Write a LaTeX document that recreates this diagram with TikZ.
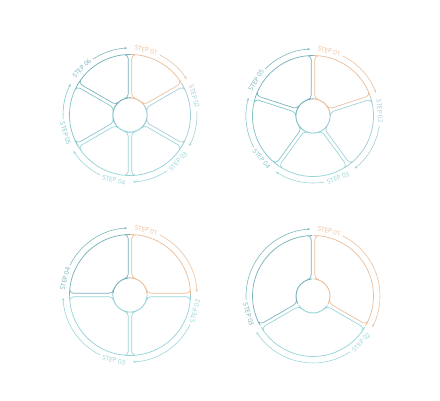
\documentclass[tikz,border=0pt]{standalone}
\usepackage{fontspec}
\setmainfont{Open Sans}
\usetikzlibrary{arrows.meta}
\definecolor{cA}{RGB}{236,190,154}
\definecolor{cB}{RGB}{162,204,214}
\definecolor{cC}{RGB}{148,212,216}
\definecolor{cD}{RGB}{126,196,202}
\definecolor{cE}{RGB}{118,178,186}
\tikzset{
  seg/.style={line width=0.65pt, rounded corners=4pt, line join=round},
  arr/.style={line width=0.55pt, -{Stealth[length=2.6pt,width=2.2pt]}},
  lab/.style={font=\fontsize{6.4}{6.4}\selectfont, inner sep=0pt, anchor=center}
}
\def\Ro{60.5}
\def\Ri{17}
\def\G{1.8}
\def\Ra{67}
\newcommand\drawwheel[4]{%
\begin{scope}[shift={(#1,#2)}]
\pgfmathsetmacro\sp{360/#3}
\foreach \k/\col in {#4}{
  \pgfmathsetmacro\A{90-(\k-1)*\sp}
  \pgfmathsetmacro\B{90-\k*\sp}
  \pgfmathsetmacro\dO{asin(\G/\Ro)}
  \pgfmathsetmacro\dI{asin(\G/\Ri)}
  \pgfmathsetmacro\aO{\A-\dO}
  \pgfmathsetmacro\bO{\B+\dO}
  \pgfmathsetmacro\aI{\A-\dI}
  \pgfmathsetmacro\bI{\B+\dI}
  \draw[seg,draw=\col] plot[domain=\aO:\bO,samples=40] (\x:\Ro) -- plot[domain=\bI:\aI,samples=12] (\x:\Ri) -- cycle;
  \pgfmathsetmacro\L{\A-14}
  \pgfmathsetmacro\rot{sin(\L)>=0 ? \L-90 : \L+90}
  \node[lab,text=\col,rotate=\rot] (l#3\k) at (\L:\Ra) {STEP 0\k};
  \pgfmathsetmacro\sa{\A-26.5}
  \pgfmathsetmacro\ea{\B+2.5}
  \coordinate (s#3\k) at (\sa:\Ra);
  \draw[arr,draw=\col] (s#3\k) arc[start angle=\sa,end angle=\ea,radius=\Ra];
}
\end{scope}}
\begin{document}
\begin{tikzpicture}[x=1pt,y=1pt]
\useasboundingbox (0,0) rectangle (440,400);
\fill[white] (0,0) rectangle (440,400);
\drawwheel{130}{285}{6}{1/cA,2/cB,3/cC,4/cC,5/cD,6/cE}
\drawwheel{313}{284}{5}{1/cA,2/cB,3/cC,4/cD,5/cE}
\drawwheel{130}{105}{4}{1/cA,2/cC,3/cC,4/cE}
\drawwheel{313}{104}{3}{1/cA,2/cC,3/cE}
\end{tikzpicture}
\end{document}
